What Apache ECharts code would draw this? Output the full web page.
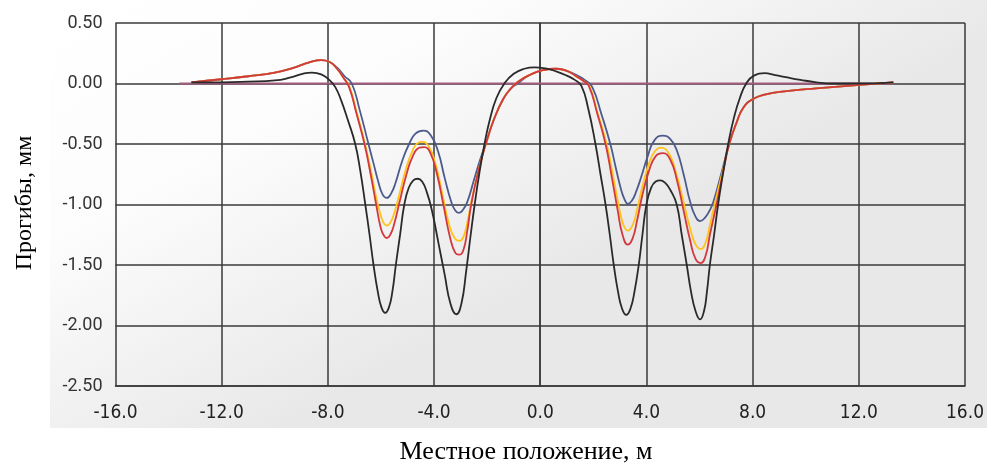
<!DOCTYPE html>
<html>
<head>
<meta charset="utf-8">
<script src="https://cdn.jsdelivr.net/npm/echarts@6/dist/echarts.min.js"></script>
<style>
  html, body { margin: 0; padding: 0; background: #fff; }
  #chart { width: 987px; height: 463px; }
</style>
</head>
<body>
<div id="chart"></div>
<script>
// axis ticks
const xTicks = { min: -16, max: 16, step: 4 };
const yTicks = { min: -2.5, max: 0.5, step: 0.5 };

// reference (zero) line
const zeroLine = [[-13.6, 0], [13.3, 0]];

// deflection curves, [position m, deflection mm]
const blackCurve = [
  [-13.14, 0.01], [-12, 0.01], [-11, 0.015], [-10, 0.025], [-9.4, 0.05], [-8.95, 0.08], [-8.6, 0.09],
  [-8.25, 0.075], [-7.95, 0.03], [-7.72, -0.03], [-7.5, -0.14], [-7.25, -0.3], [-6.97, -0.5],
  [-6.78, -0.72], [-6.59, -1.0], [-6.43, -1.25], [-6.28, -1.5], [-6.12, -1.72], [-5.98, -1.85],
  [-5.84, -1.895], [-5.7, -1.85], [-5.57, -1.72], [-5.44, -1.5], [-5.28, -1.25], [-5.12, -1.0],
  [-4.95, -0.86], [-4.78, -0.8], [-4.62, -0.787], [-4.45, -0.81], [-4.27, -0.9], [-4.08, -1.05],
  [-3.85, -1.3], [-3.6, -1.58], [-3.38, -1.82], [-3.16, -1.907], [-2.97, -1.82], [-2.79, -1.55],
  [-2.62, -1.25], [-2.47, -1.0], [-2.3, -0.75], [-2.1, -0.5], [-1.9, -0.3], [-1.65, -0.12],
  [-1.35, 0.0], [-1.0, 0.08], [-0.6, 0.122], [-0.22, 0.134], [0.2, 0.125], [0.6, 0.1], [1.0, 0.065],
  [1.3, 0.03], [1.55, -0.02], [1.8, -0.2], [2.08, -0.5], [2.27, -0.75], [2.46, -1.0], [2.62, -1.25],
  [2.77, -1.5], [2.93, -1.72], [3.08, -1.86], [3.24, -1.913], [3.4, -1.86], [3.55, -1.72],
  [3.71, -1.5], [3.85, -1.25], [4.0, -1.0], [4.18, -0.86], [4.35, -0.81], [4.52, -0.8], [4.7, -0.82],
  [4.9, -0.88], [5.14, -1.0], [5.33, -1.25], [5.52, -1.5], [5.68, -1.72], [5.85, -1.88], [6.02, -1.95],
  [6.17, -1.88], [6.28, -1.72], [6.39, -1.5], [6.55, -1.25], [6.7, -1.0], [6.88, -0.75], [7.08, -0.5],
  [7.3, -0.28], [7.52, -0.12], [7.76, 0.0], [8.05, 0.065], [8.45, 0.085], [8.85, 0.07], [9.3, 0.05],
  [9.8, 0.03], [10.4, 0.01], [11.0, 0.0], [12.0, 0.0], [13.3, 0.01]
];

const blueCurve = [
  [-13.14, 0.01], [-12, 0.035], [-11, 0.06], [-10, 0.09], [-9.3, 0.13], [-8.7, 0.175], [-8.25, 0.193],
  [-7.95, 0.18], [-7.65, 0.13], [-7.37, 0.06], [-7.1, 0.0], [-6.8, -0.22], [-6.47, -0.5],
  [-6.28, -0.66], [-6.09, -0.82], [-5.93, -0.92], [-5.78, -0.945], [-5.62, -0.91], [-5.45, -0.82],
  [-5.2, -0.64], [-4.94, -0.5], [-4.7, -0.415], [-4.4, -0.39], [-4.12, -0.43], [-3.85, -0.56],
  [-3.6, -0.78], [-3.35, -0.98], [-3.2, -1.05], [-3.07, -1.07], [-2.93, -1.05], [-2.75, -0.98],
  [-2.5, -0.8], [-2.25, -0.62], [-2.05, -0.5], [-1.75, -0.3], [-1.4, -0.13], [-1.1, -0.04],
  [-0.85, 0.0], [-0.4, 0.07], [0.1, 0.11], [0.6, 0.122], [1.0, 0.105], [1.4, 0.065], [1.7, 0.025],
  [1.96, -0.03], [2.3, -0.25], [2.64, -0.5], [2.85, -0.7], [3.05, -0.88], [3.18, -0.96], [3.3, -0.995],
  [3.45, -0.97], [3.62, -0.89], [3.82, -0.76], [4.05, -0.6], [4.3, -0.47], [4.62, -0.43], [4.9, -0.46],
  [5.14, -0.55], [5.4, -0.75], [5.65, -0.98], [5.85, -1.1], [6.02, -1.138], [6.2, -1.11],
  [6.38, -1.05], [6.52, -0.98], [6.8, -0.76], [7.12, -0.5], [7.4, -0.32], [7.65, -0.2], [8.0, -0.13],
  [8.5, -0.09], [9.2, -0.065], [10.39, -0.04], [12.03, -0.012], [13.3, 0.01]
];

const yellowCurve = [
  [-13.14, 0.01], [-12, 0.035], [-11, 0.06], [-10, 0.09], [-9.3, 0.13], [-8.7, 0.175], [-8.25, 0.193],
  [-7.95, 0.18], [-7.65, 0.12], [-7.42, 0.05], [-7.18, -0.03], [-6.9, -0.25], [-6.6, -0.5],
  [-6.36, -0.74], [-6.16, -0.96], [-5.98, -1.11], [-5.88, -1.16], [-5.78, -1.174], [-5.65, -1.15],
  [-5.5, -1.07], [-5.3, -0.91], [-5.05, -0.7], [-4.8, -0.55], [-4.6, -0.49], [-4.45, -0.483],
  [-4.2, -0.52], [-3.95, -0.66], [-3.7, -0.9], [-3.45, -1.15], [-3.22, -1.28], [-3.03, -1.3],
  [-2.88, -1.26], [-2.72, -1.12], [-2.58, -0.96], [-2.33, -0.72], [-2.05, -0.5], [-1.75, -0.3],
  [-1.4, -0.13], [-1.1, -0.04], [-0.8, 0.02], [-0.4, 0.07], [0.1, 0.11], [0.6, 0.122], [1.0, 0.105],
  [1.35, 0.06], [1.6, 0.025], [1.85, -0.02], [2.17, -0.25], [2.5, -0.5], [2.74, -0.76], [2.95, -1.0],
  [3.12, -1.16], [3.3, -1.216], [3.48, -1.17], [3.65, -1.04], [3.85, -0.85], [4.1, -0.66],
  [4.32, -0.56], [4.55, -0.53], [4.85, -0.58], [5.12, -0.74], [5.4, -0.98], [5.65, -1.2],
  [5.85, -1.33], [6.04, -1.368], [6.22, -1.32], [6.4, -1.16], [6.62, -0.95], [6.9, -0.7],
  [7.12, -0.5], [7.4, -0.32], [7.65, -0.2], [8.0, -0.13], [8.5, -0.09], [9.2, -0.065],
  [10.39, -0.04], [12.03, -0.012], [13.3, 0.01]
];

const redCurve = [
  [-13.14, 0.01], [-12, 0.035], [-11, 0.06], [-10, 0.09], [-9.3, 0.13], [-8.7, 0.175], [-8.25, 0.193],
  [-7.95, 0.18], [-7.65, 0.12], [-7.42, 0.05], [-7.2, -0.03], [-6.92, -0.25], [-6.62, -0.5],
  [-6.38, -0.76], [-6.18, -1.0], [-6.0, -1.2], [-5.88, -1.26], [-5.78, -1.277], [-5.65, -1.25],
  [-5.5, -1.16], [-5.3, -0.98], [-5.05, -0.76], [-4.8, -0.6], [-4.55, -0.53], [-4.37, -0.525],
  [-4.15, -0.57], [-3.9, -0.74], [-3.65, -1.0], [-3.4, -1.27], [-3.2, -1.4], [-3.05, -1.415],
  [-2.9, -1.38], [-2.75, -1.22], [-2.6, -1.0], [-2.35, -0.74], [-2.05, -0.5], [-1.75, -0.3],
  [-1.4, -0.13], [-1.1, -0.04], [-0.8, 0.02], [-0.4, 0.07], [0.1, 0.11], [0.6, 0.122], [1.0, 0.105],
  [1.35, 0.06], [1.6, 0.025], [1.83, -0.02], [2.15, -0.25], [2.46, -0.5], [2.7, -0.78], [2.92, -1.05],
  [3.1, -1.25], [3.3, -1.332], [3.48, -1.28], [3.65, -1.13], [3.85, -0.92], [4.1, -0.72],
  [4.35, -0.6], [4.62, -0.576], [4.9, -0.63], [5.15, -0.8], [5.4, -1.05], [5.65, -1.3],
  [5.85, -1.45], [6.04, -1.484], [6.22, -1.43], [6.4, -1.24], [6.64, -1.0], [6.9, -0.72],
  [7.12, -0.5], [7.4, -0.32], [7.65, -0.2], [8.0, -0.13], [8.5, -0.09], [9.2, -0.065],
  [10.39, -0.04], [12.03, -0.012], [13.3, 0.01]
];

const gridColor = '#3a3a3a';

function curve(data, color, z) {
  return {
    type: 'line',
    data: data,
    smooth: 0.5,
    showSymbol: false,
    z: z,
    lineStyle: { color: color, width: 1.8 }
  };
}

let chart = echarts.init(document.getElementById('chart'));
chart.setOption({
  animation: false,
  backgroundColor: '#fff',
  graphic: [{
    type: 'rect',
    z: -100,
    silent: true,
    shape: { x: 50, y: 0, width: 937, height: 428 },
    style: {
      fill: new echarts.graphic.LinearGradient(0, 0, 0.25, 1, [
        { offset: 0, color: '#ffffff' },
        { offset: 0.45, color: '#fcfcfc' },
        { offset: 1, color: '#e8e8e8' }
      ])
    }
  }, {
    type: 'text',
    silent: true,
    x: 526,
    y: 452,
    style: {
      text: 'Местное положение, м',
      font: '26px "Liberation Serif"',
      fill: '#000',
      align: 'center',
      verticalAlign: 'middle'
    }
  }, {
    type: 'text',
    silent: true,
    x: 25,
    y: 203,
    rotation: Math.PI / 2,
    style: {
      text: 'Прогибы, мм',
      font: '24px "Liberation Serif"',
      fill: '#000',
      align: 'center',
      verticalAlign: 'middle'
    }
  }],
  grid: { left: 115.5, right: 17, top: 23, bottom: 77 },
  xAxis: {
    type: 'value',
    min: xTicks.min,
    max: xTicks.max,
    interval: xTicks.step,
    axisLine: { show: true, onZero: false, lineStyle: { color: gridColor, width: 1.5 } },
    axisTick: { show: false },
    axisLabel: {
      margin: 18,
      fontFamily: '"Liberation Sans Narrow", "DejaVu Sans Condensed", sans-serif',
      fontSize: 19,
      color: '#222',
      formatter: v => v.toFixed(1)
    },
    splitLine: { show: true, lineStyle: { color: gridColor, width: 1.5 } }
  },
  yAxis: {
    type: 'value',
    min: yTicks.min,
    max: yTicks.max,
    interval: yTicks.step,
    axisLine: { show: true, lineStyle: { color: gridColor, width: 1.5 } },
    axisTick: { show: false },
    axisLabel: {
      margin: 13,
      fontFamily: 'Roboto, sans-serif',
      fontSize: 18,
      color: '#333',
      formatter: v => v.toFixed(2)
    },
    splitLine: { show: true, lineStyle: { color: gridColor, width: 1.5 } }
  },
  series: [
    {
      type: 'line',
      data: zeroLine,
      showSymbol: false,
      z: 2,
      lineStyle: { color: '#a35d80', width: 2 }
    },
    curve(blueCurve, '#4d5b8c', 3),
    curve(yellowCurve, '#ffc31a', 4),
    curve(redCurve, '#d2383c', 5),
    curve(blackCurve, '#2a2a2a', 6)
  ]
});
window.addEventListener('resize', () => { chart.resize(); });
</script>
</body>
</html>
